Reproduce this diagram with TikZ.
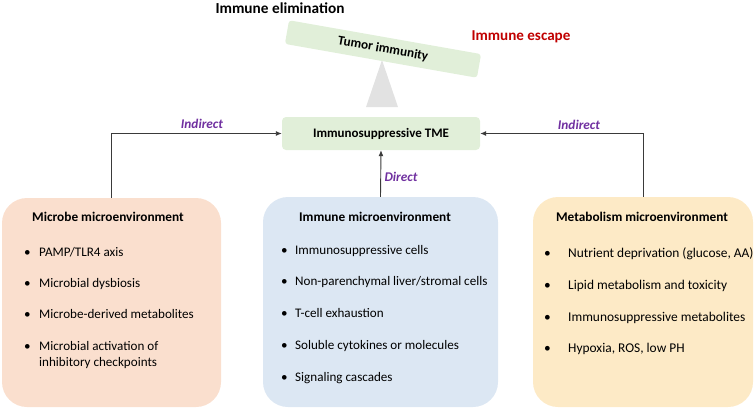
\documentclass[tikz,border=0pt]{standalone}
\usepackage{fontspec}
\setmainfont{Carlito}
\usetikzlibrary{arrows.meta}
\definecolor{peach}{HTML}{FADFCE}
\definecolor{lblue}{HTML}{DCE7F3}
\definecolor{lyellow}{HTML}{FDEAC6}
\definecolor{lgreen}{HTML}{E1EFD9}
\definecolor{tri}{HTML}{E2E2E2}
\definecolor{purp}{HTML}{7030A0}
\definecolor{escred}{HTML}{C00000}
\definecolor{arr}{HTML}{3A3A3A}
\tikzset{
  bigbox/.style={rounded corners=25pt, inner sep=0pt},
  greenbox/.style={fill=lgreen, inner sep=0pt, font=\bfseries\fontsize{13}{15}\selectfont},
  boxtitle/.style={font=\bfseries\fontsize{13.3}{15}\selectfont, inner sep=0pt},
  item/.style={anchor=west, inner sep=0pt, font=\fontsize{13.1}{15}\selectfont, text height=10pt, text depth=2pt},
  itemr/.style={item, font=\fontsize{13.4}{15}\selectfont},
  conn/.style={draw=arr, line width=0.9pt, -{Latex[length=6pt,width=5pt]}},
  lab/.style={font=\bfseries\itshape\fontsize{13.3}{15}\selectfont, text=purp, inner sep=0pt},
}
\newcommand{\bul}[2]{\makebox[#1pt][l]{\textbullet}#2}
\begin{document}
\begin{tikzpicture}[x=1pt,y=-1pt]
\useasboundingbox (0,0) rectangle (755,410);
% top
\node[font=\bfseries\fontsize{15.3}{17}\selectfont, inner sep=0pt] (elim) at (280,8) {Immune elimination};
\node[font=\bfseries\fontsize{15.1}{17}\selectfont, text=escred, inner sep=0pt] (escape) at (521,37) {Immune escape};
\fill[tri] (382,60) -- (398,107) -- (366,107) -- cycle;
\node[greenbox, rounded corners=3pt, minimum width=195pt, minimum height=24pt, rotate=-10, font=\bfseries\fontsize{13.2}{15}\selectfont] (tumor) at (383,49) {Tumor immunity};
\node[greenbox, rounded corners=4pt, minimum width=198pt, minimum height=33pt] (tme) at (381,133.5) {Immunosuppressive TME};
% boxes
\node[bigbox, fill=peach, minimum width=219pt, minimum height=209pt] (lbox) at (111.5,302.5) {};
\node[bigbox, fill=lblue, minimum width=235pt, minimum height=210pt] (cbox) at (380.5,302) {};
\node[bigbox, fill=lyellow, minimum width=220pt, minimum height=210pt] (rbox) at (643,302) {};
% left
\node[boxtitle] (lt) at (108,217) {Microbe microenvironment};
\node[item] (l1) at (24,252) {\bul{15}{PAMP/TLR4 axis}};
\node[item] (l2) at (24,283) {\bul{15}{Microbial dysbiosis}};
\node[item] (l3) at (24,314) {\bul{15}{Microbe-derived metabolites}};
\node[item] (l4) at (24,346) {\bul{15}{Microbial activation of}};
\node[item] (l5) at (39,362) {inhibitory checkpoints};
% center
\node[boxtitle] (ct) at (375,217) {Immune microenvironment};
\node[item] (c1) at (281,250) {\bul{14}{Immunosuppressive cells}};
\node[item] (c2) at (281,281) {\bul{14}{Non-parenchymal liver/stromal cells}};
\node[item] (c3) at (281,313) {\bul{14}{T-cell exhaustion}};
\node[item] (c4) at (281,345) {\bul{14}{Soluble cytokines or molecules}};
\node[item] (c5) at (281,377) {\bul{14}{Signaling cascades}};
% right
\node[boxtitle] (rt) at (642,217) {Metabolism microenvironment};
\node[itemr] (r1) at (544,253) {\bul{24}{Nutrient deprivation (glucose, AA)}};
\node[itemr] (r2) at (544,285) {\bul{24}{Lipid metabolism and toxicity}};
\node[itemr] (r3) at (544,317) {\bul{24}{Immunosuppressive metabolites}};
\node[itemr] (r4) at (544,348) {\bul{24}{Hypoxia, ROS, low PH}};
% connectors
\draw[conn] (lbox.north) |- (tme.west);
\draw[conn] (rbox.north) |- (tme.east);
\draw[conn] (cbox.north) -- (tme.south);
\node[lab] (ind1) at (202,124) {Indirect};
\node[lab] (ind2) at (579,125) {Indirect};
\node[lab] (dir) at (401,177) {Direct};
\end{tikzpicture}
\end{document}
